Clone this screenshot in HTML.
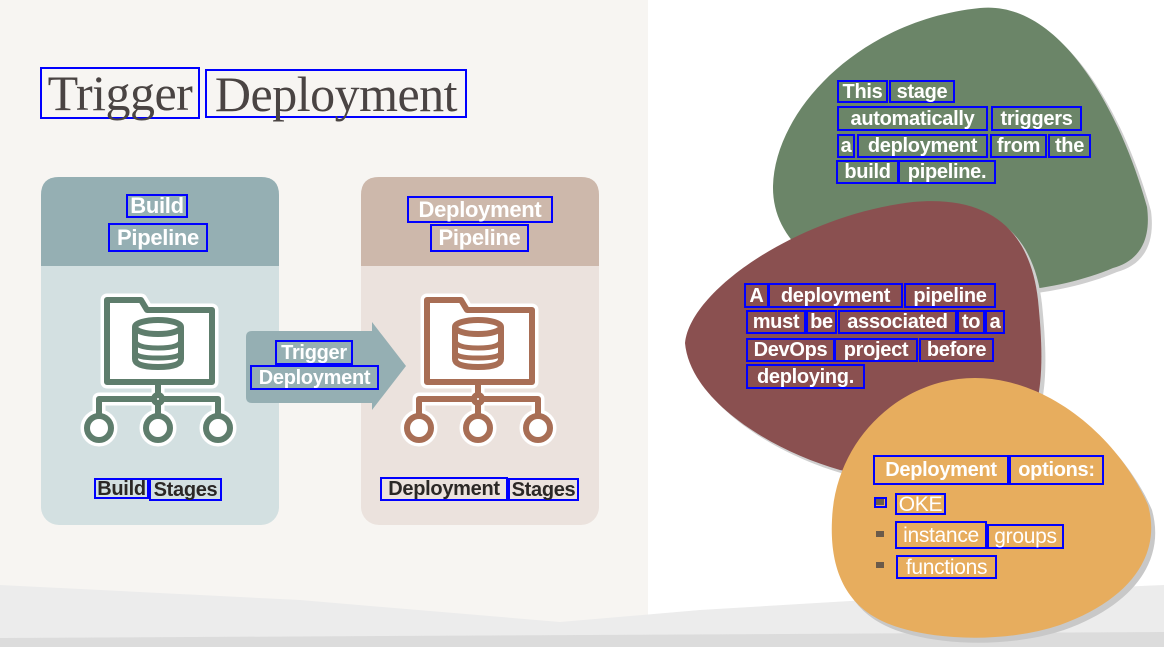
<!DOCTYPE html>
<html><head><meta charset="utf-8"><style>
*{margin:0;padding:0;box-sizing:border-box}
body{width:1164px;height:647px;overflow:hidden;position:relative;background:#fff;font-family:"Liberation Sans",sans-serif}
.w{position:absolute;border:2px solid #0000ff;display:flex;align-items:center;justify-content:center;white-space:nowrap;font-weight:bold;line-height:1;letter-spacing:-0.3px}
.wt{color:#fff;font-size:20px}
.wd{color:#2b2826;font-size:20px}
.ws{color:#fff;font-size:22px}
.ttl{font-family:"Liberation Serif",serif;font-weight:normal;color:#4a4443;font-size:50px;letter-spacing:-0.5px}
</style></head><body>
<div style="position:absolute;left:0;top:0;width:648px;height:647px;background:#f7f5f2"></div>
<svg style="position:absolute;left:0;top:0" width="1164" height="647">
<path d="M0,585 L300,600 L560,622 L700,610 L1000,592 L1164,585 L1164,647 L0,647Z" fill="#ececec"/>
<path d="M0,638 L1164,632 L1164,647 L0,647Z" fill="#dcdcdc"/>
<rect x="41" y="177" width="238" height="348" rx="18" fill="#d3e0e1"/>
<path d="M41,266 L41,195 Q41,177 59,177 L261,177 Q279,177 279,195 L279,266Z" fill="#95afb3"/>
<rect x="361" y="177" width="238" height="348" rx="18" fill="#ebe2dd"/>
<path d="M361,266 L361,195 Q361,177 379,177 L581,177 Q599,177 599,195 L599,266Z" fill="#cdb8ab"/>
<path d="M252,331 L372,331 L372,322 L406,366 L372,410 L372,403 L252,403 Q246,403 246,397 L246,337 Q246,331 252,331Z" fill="#95afb3"/>
<g transform="translate(75,285)" fill="none" stroke-linejoin="round">
<g stroke="#fff" stroke-width="13">
<path d="M32,15 L66,15 L72,25 L137,25 L137,97 L32,97Z" fill="#fff"/>
<path d="M83,97 L83,114 M24,143 L24,114 L143,114 L143,143 M83,114 L83,143"/>
<circle cx="24" cy="143" r="12" fill="#fff"/><circle cx="83" cy="143" r="12" fill="#fff"/><circle cx="143" cy="143" r="12" fill="#fff"/>
</g>
<g stroke="#5e7d6c" stroke-width="6">
<path d="M32,15 L66,15 L72,25 L137,25 L137,97 L32,97Z" fill="#fff"/>
<path d="M60,42 L60,74 Q60,82 83,82 Q106,82 106,74 L106,42"/>
<ellipse cx="83" cy="42" rx="23" ry="7"/>
<path d="M60,55 Q60,63 83,63 Q106,63 106,55 M60,67 Q60,73 83,73 Q106,73 106,67" stroke-width="5"/>
<path d="M83,97 L83,110 M24,131 L24,114 L79,114 M87,114 L143,114 L143,131 M83,118 L83,131"/>
<circle cx="83" cy="114" r="4" fill="#fff"/>
<circle cx="24" cy="143" r="12" fill="#fff"/><circle cx="83" cy="143" r="12" fill="#fff"/><circle cx="143" cy="143" r="12" fill="#fff"/>
</g>
</g>
<g transform="translate(395,285)" fill="none" stroke-linejoin="round">
<g stroke="#fff" stroke-width="13">
<path d="M32,15 L66,15 L72,25 L137,25 L137,97 L32,97Z" fill="#fff"/>
<path d="M83,97 L83,114 M24,143 L24,114 L143,114 L143,143 M83,114 L83,143"/>
<circle cx="24" cy="143" r="12" fill="#fff"/><circle cx="83" cy="143" r="12" fill="#fff"/><circle cx="143" cy="143" r="12" fill="#fff"/>
</g>
<g stroke="#a86e55" stroke-width="6">
<path d="M32,15 L66,15 L72,25 L137,25 L137,97 L32,97Z" fill="#fff"/>
<path d="M60,42 L60,74 Q60,82 83,82 Q106,82 106,74 L106,42"/>
<ellipse cx="83" cy="42" rx="23" ry="7"/>
<path d="M60,55 Q60,63 83,63 Q106,63 106,55 M60,67 Q60,73 83,73 Q106,73 106,67" stroke-width="5"/>
<path d="M83,97 L83,110 M24,131 L24,114 L79,114 M87,114 L143,114 L143,131 M83,118 L83,131"/>
<circle cx="83" cy="114" r="4" fill="#fff"/>
<circle cx="24" cy="143" r="12" fill="#fff"/><circle cx="83" cy="143" r="12" fill="#fff"/><circle cx="143" cy="143" r="12" fill="#fff"/>
</g>
</g>
<!-- blobs -->
<path d="M773,186 C775,110 860,20 980,8 C1060,0 1120,110 1147,207 C1152,245 1135,262 1113,268 C1080,282 1040,290 1000,292 L900,292 C820,280 772,240 773,186Z" fill="#cfcfcf" transform="translate(4,4)"/>
<path d="M773,186 C775,110 860,20 980,8 C1060,0 1120,110 1147,207 C1152,245 1135,262 1113,268 C1080,282 1040,290 1000,292 L900,292 C820,280 772,240 773,186Z" fill="#6b8568"/>
<path d="M685,343 C690,290 800,215 913,202 C990,195 1030,230 1038,300 C1045,370 1045,430 1000,455 C940,475 880,478 840,470 C770,450 690,400 685,343Z" fill="#cfcfcf" transform="translate(4,4)"/>
<path d="M685,343 C690,290 800,215 913,202 C990,195 1030,230 1038,300 C1045,370 1045,430 1000,455 C940,475 880,478 840,470 C770,450 690,400 685,343Z" fill="#8a5050"/>
<path d="M832,520 C835,440 900,378 975,378 C1050,378 1120,440 1148,505 C1162,555 1130,600 1060,625 C1000,645 920,640 880,620 C840,600 830,560 832,520Z" fill="#c8c8c8" transform="translate(4,5)"/>
<path d="M832,520 C835,440 900,378 975,378 C1050,378 1120,440 1148,505 C1162,555 1130,600 1060,625 C1000,645 920,640 880,620 C840,600 830,560 832,520Z" fill="#e7ad5e"/>
<rect x="876" y="499" width="8" height="6" fill="#6a5a4a"/>
<rect x="876" y="531" width="8" height="6" fill="#6a5a4a"/>
<rect x="876" y="562" width="8" height="6" fill="#6a5a4a"/>
</svg>

<div class="w ttl" style="left:40px;top:67px;width:160px;height:52px">Trigger</div>
<div class="w ttl" style="left:205px;top:69px;width:262px;height:49px">Deployment</div>

<div class="w ws" style="left:126px;top:194px;width:62px;height:24px">Build</div>
<div class="w ws" style="left:108px;top:223px;width:100px;height:29px">Pipeline</div>
<div class="w ws" style="left:407px;top:196px;width:146px;height:27px">Deployment</div>
<div class="w ws" style="left:430px;top:224px;width:99px;height:28px">Pipeline</div>
<div class="w wd" style="left:94px;top:478px;width:55px;height:21px">Build</div>
<div class="w wd" style="left:149px;top:478px;width:73px;height:23px">Stages</div>
<div class="w wd" style="left:380px;top:477px;width:128px;height:24px">Deployment</div>
<div class="w wd" style="left:508px;top:478px;width:71px;height:23px">Stages</div>
<div class="w wt" style="left:275px;top:340px;width:78px;height:25px">Trigger</div>
<div class="w wt" style="left:250px;top:365px;width:129px;height:25px">Deployment</div>

<div class="w wt" style="left:837px;top:80px;width:51px;height:23px">This</div>
<div class="w wt" style="left:889px;top:80px;width:66px;height:23px">stage</div>
<div class="w wt" style="left:837px;top:106px;width:151px;height:25px">automatically</div>
<div class="w wt" style="left:991px;top:106px;width:91px;height:25px">triggers</div>
<div class="w wt" style="left:837px;top:134px;width:18px;height:24px">a</div>
<div class="w wt" style="left:857px;top:134px;width:131px;height:24px">deployment</div>
<div class="w wt" style="left:990px;top:134px;width:57px;height:24px">from</div>
<div class="w wt" style="left:1048px;top:134px;width:43px;height:24px">the</div>
<div class="w wt" style="left:836px;top:160px;width:63px;height:24px">build</div>
<div class="w wt" style="left:898px;top:160px;width:98px;height:24px">pipeline.</div>

<div class="w wt" style="left:744px;top:283px;width:25px;height:25px">A</div>
<div class="w wt" style="left:768px;top:283px;width:135px;height:25px">deployment</div>
<div class="w wt" style="left:904px;top:283px;width:92px;height:25px">pipeline</div>
<div class="w wt" style="left:746px;top:310px;width:60px;height:24px">must</div>
<div class="w wt" style="left:806px;top:310px;width:31px;height:24px">be</div>
<div class="w wt" style="left:838px;top:310px;width:119px;height:24px">associated</div>
<div class="w wt" style="left:957px;top:310px;width:28px;height:24px">to</div>
<div class="w wt" style="left:985px;top:310px;width:20px;height:24px">a</div>
<div class="w wt" style="left:746px;top:338px;width:89px;height:24px">DevOps</div>
<div class="w wt" style="left:834px;top:338px;width:84px;height:24px">project</div>
<div class="w wt" style="left:919px;top:338px;width:75px;height:24px">before</div>
<div class="w wt" style="left:746px;top:364px;width:119px;height:25px">deploying.</div>

<div class="w wt" style="left:873px;top:455px;width:136px;height:30px">Deployment</div>
<div class="w wt" style="left:1009px;top:455px;width:95px;height:30px">options:</div>
<div class="w" style="left:874px;top:497px;width:13px;height:11px"></div>
<div class="w" style="left:895px;top:493px;width:51px;height:22px;color:#fff;font-weight:normal;font-size:21px">OKE</div>
<div class="w" style="left:895px;top:521px;width:92px;height:28px;color:#fff;font-weight:normal;font-size:21px">instance</div>
<div class="w" style="left:987px;top:524px;width:77px;height:25px;color:#fff;font-weight:normal;font-size:21px">groups</div>
<div class="w" style="left:896px;top:555px;width:101px;height:24px;color:#fff;font-weight:normal;font-size:21px">functions</div>
</body></html>
